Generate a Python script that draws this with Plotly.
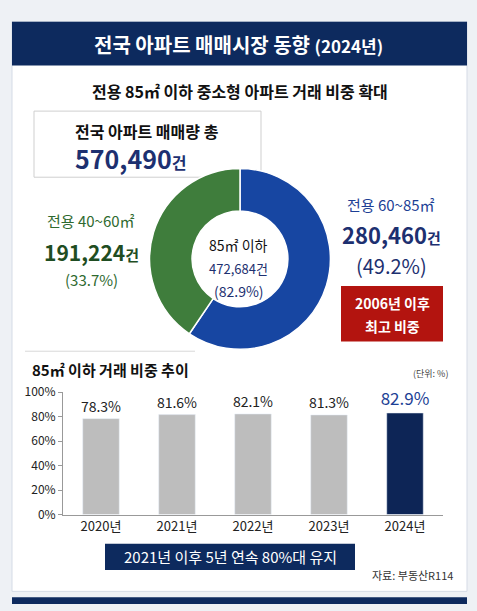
import plotly.graph_objects as go

# donut data
seg_labels = ["전용 60~85㎡", "전용 40~60㎡"]
seg_values = [280460, 191224]
seg_colors = ["#1746a2", "#3f7d3c"]

# bar data
years = ["2020년", "2021년", "2022년", "2023년", "2024년"]
shares = [78.3, 81.6, 82.1, 81.3, 82.9]
share_text = ["78.3%", "81.6%", "82.1%", "81.3%", "82.9%"]
bar_colors = ["#bdbdbd", "#bdbdbd", "#bdbdbd", "#bdbdbd", "#0d2556"]

W, H = 477, 611
FONT = "Noto Sans CJK KR"
NAVY = "#0d2a5e"


def px(x):
    return x / W


def py(y):
    return 1 - y / H


fig = go.Figure()

fig.add_trace(go.Pie(
    labels=seg_labels, values=seg_values, hole=0.53, sort=False,
    direction="clockwise", rotation=0,
    marker=dict(colors=seg_colors, line=dict(color="white", width=1.5)),
    textinfo="none", hoverinfo="label+value",
    domain=dict(x=[px(148), px(332)], y=[py(349), py(163)]),
    showlegend=False,
))

fig.add_trace(go.Bar(
    x=years, y=shares, marker_color=bar_colors, width=0.48,
    text=share_text, textposition="outside", cliponaxis=False,
    constraintext="none",
    textfont=dict(size=[14, 14, 14, 14, 17],
                  color=["#222", "#222", "#222", "#222", "#1d3f95"]),
    showlegend=False,
))


def rect(x0, y0, x1, y1, fill, line=None):
    return dict(type="rect", xref="paper", yref="paper",
                x0=px(x0), x1=px(x1), y0=py(y1), y1=py(y0),
                fillcolor=fill, line=line or dict(width=0), layer="below")


shapes = [
    rect(12, 12, 467, 598, "white", dict(color="#d5dbe6", width=1)),
    rect(12, 12, 467, 57, NAVY),
    rect(34, 104, 261, 172, "white", dict(color="#cfcfcf", width=1)),
    rect(341, 284, 443, 341, "#b3140f"),
    rect(105, 549, 355, 576, NAVY),
    rect(12, 604, 467, 611, NAVY),
    dict(type="line", xref="paper", yref="paper", x0=px(25), x1=px(195),
         y0=py(351), y1=py(351), line=dict(color="#d8d8d8", width=1), layer="below"),
]


def ann(x, y, text, size, color="#222", anchor="center", bold=False):
    if bold:
        text = "<b>" + text + "</b>"
    return dict(x=px(x), y=py(y), xref="paper", yref="paper", text=text,
                showarrow=False, xanchor=anchor, yanchor="middle",
                font=dict(size=size, color=color, family=FONT))


annotations = [
    ann(238, 35, "전국 아파트 매매시장 동향 <span style='font-size:17px'>(2024년)</span>", 20, "white", bold=True),
    ann(240, 83, "전용 85㎡ 이하 중소형 아파트 거래 비중 확대", 16, "#111", bold=True),
    ann(147, 124, "전국 아파트 매매량 총", 16, "#111", bold=True),
    ann(73, 152, "570,490<span style='font-size:16px'>건</span>", 25, "#1d3070", "left", bold=True),
    ann(91, 217, "전용 40~60㎡", 15, "#2f6a2f"),
    ann(91, 249, "191,224<span style='font-size:15px'>건</span>", 21, "#1f4d22", bold=True),
    ann(91, 277, "(33.7%)", 15, "#2f6a2f"),
    ann(391, 200, "전용 60~85㎡", 15, "#1d3f95"),
    ann(391, 230, "280,460<span style='font-size:15px'>건</span>", 22, "#1d3070", bold=True),
    ann(391, 263, "(49.2%)", 20, "#1d3070"),
    ann(392, 301, "2006년 이후", 14, "white", bold=True),
    ann(392, 325, "최고 비중", 14, "white", bold=True),
    ann(239, 242, "85㎡ 이하", 14, "#111"),
    ann(239, 266, "472,684건", 13, "#1d3070"),
    ann(239, 289, "(82.9%)", 14, "#1d3070"),
    ann(30, 370, "85㎡ 이하 거래 비중 추이", 15, "#111", "left", bold=True),
    ann(450, 374, "(단위: %)", 9, "#444", "right"),
    ann(230, 562, "2021년 이후 5년 연속 80%대 유지", 15, "white"),
    ann(455, 581, "자료: 부동산R114", 11, "#333", "right"),
]

fig.update_layout(
    width=W, height=H, margin=dict(l=0, r=0, t=0, b=0),
    paper_bgcolor="#eef1f5", plot_bgcolor="rgba(0,0,0,0)",
    font=dict(family=FONT),
    shapes=shapes, annotations=annotations,
    xaxis=dict(domain=[px(63), px(443)], showline=True, linecolor="#999",
               ticks="", tickfont=dict(size=13, color="#222"), fixedrange=True),
    yaxis=dict(domain=[py(519), py(393)], range=[0, 100], dtick=20,
               ticksuffix="%", showgrid=False, showline=True, linecolor="#999",
               ticks="outside", ticklen=4, tickcolor="#999",
               tickfont=dict(size=12, color="#222"), zeroline=False),
)

fig.write_html("out.html", config={"displayModeBar": False},
               post_script="document.body.style.margin='0';")
